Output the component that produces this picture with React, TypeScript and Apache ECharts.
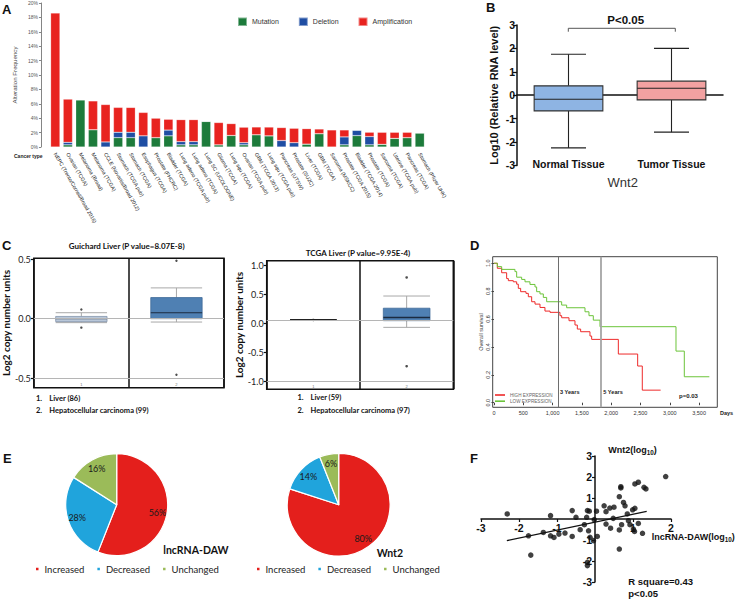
import React, { useEffect, useRef } from 'react';
import * as echarts from 'echarts';

// ---------- Panel A data ----------
const cancerTypes = [
  'NEPC (Trento/Cornell/Broad 2016)', 'Ovarian (TCGA)', 'Melanoma (Broad)', 'Melanoma (TCGA)',
  'CCLE (Novartis/Broad 2012)', 'Stomach (TCGA pub)', 'Stomach (TCGA)', 'Esophagus (TCGA)',
  'Prostate (FHCRC)', 'Bladder (TCGA)', 'Lung adeno (TCGA pub)', 'Lung adeno (TCGA)',
  'Lung SC (UCOLOGNE)', 'Glioma (TCGA)', 'Lung squ (TCGA)', 'Ovarian (TCGA pub)',
  'GBM (TCGA 2013)', 'Lung squ (TCGA pub)', 'Pancreas (UTSW)', 'Prostate (SU2C)',
  'Liver (TCGA)', 'GBM (TCGA)', 'Sarcoma (MSKCC)', 'Prostate (TCGA 2015)',
  'Bladder (TCGA 2014)', 'Prostate (TCGA)', 'Sarcoma (TCGA)', 'Uterine (TCGA pub)',
  'Pancreas (TCGA)', 'Stomach (Pfizer UHK)'
];
const mutation = [0, 0.3, 6.55, 2.4, 0, 1.3, 1.3, 0, 1.3, 1.55, 0.3, 0.3, 3.55, 0.3, 1.6, 0.3,
  1.7, 1.55, 0, 0, 0.4, 1.85, 0, 0.3, 1.58, 0.3, 0.37, 1.2, 1.3, 1.95];
const deletion = [0, 0.35, 0, 0, 0.7, 0.75, 0.75, 1.55, 0, 0.8, 0.45, 0.45, 0, 0, 0, 0.3,
  0, 0, 0.9, 0.6, 0, 0, 0, 1.1, 0.74, 1.15, 0, 0, 0, 0];
const amplification = [18.6, 6.0, 0, 4.0, 5.2, 3.45, 3.45, 3.25, 2.7, 1.5, 3.05, 3.05, 0, 3.1, 1.65, 2.15,
  1.08, 1.22, 1.8, 2.0, 2.15, 0.65, 2.37, 0.97, 0, 0.6, 1.67, 0.84, 0.74, 0];

// ---------- Panel B data (min, q1, median, q3, max) ----------
const bCategories = ['Normal Tissue', 'Tumor Tissue'];
const normalStats = [-2.25, -0.67, -0.17, 0.4, 1.75];
const tumorStats = [-1.58, -0.2, 0.3, 0.6, 2.0];

// ---------- Panel C data ----------
const cGroups = ['1', '2'];
const guichardLiver = [-0.033, -0.025, 0.0, 0.019, 0.05];
const guichardHcc = [-0.028, 0.0, 0.05, 0.177, 0.258];
const guichardOutliers = [[0, 0.077], [0, -0.075], [1, 0.485], [1, -0.47]];
const tcgaLiver = [0.057, 0.057, 0.057, 0.057, 0.057];
const tcgaHcc = [-0.07, 0.045, 0.10, 0.26, 0.47];
const tcgaOutliers = [[0, 0.057], [1, 0.79], [1, -0.74]];
const cLeftTicks = [-0.5, 0, 0.5];
const cRightTicks = [-1.0, -0.5, 0, 0.5, 1.0];

// ---------- Panel D data (Kaplan–Meier steps) ----------
const highDays = [0, 57, 131, 216, 245, 330, 387, 415, 455, 546, 586, 643, 700, 785, 870, 956, 1126, 1155,
  1280, 1382, 1422, 1479, 1638, 1667, 2122, 2452, 2531, 2844];
const highSurv = [1.0, 0.964, 0.932, 0.89, 0.875, 0.867, 0.85, 0.82, 0.796, 0.784, 0.76, 0.724, 0.707, 0.683,
  0.657, 0.648, 0.624, 0.609, 0.588, 0.557, 0.528, 0.509, 0.478, 0.454, 0.349, 0.263, 0.09, 0.09];
const lowDays = [0, 57, 131, 358, 387, 472, 529, 614, 700, 728, 785, 842, 899, 1155, 1240, 1553, 1621, 1695,
  1809, 3106, 3248, 3675];
const lowSurv = [1.0, 0.976, 0.956, 0.94, 0.90, 0.884, 0.867, 0.848, 0.83, 0.796, 0.78, 0.755, 0.724, 0.70,
  0.681, 0.652, 0.624, 0.592, 0.545, 0.37, 0.186, 0.186];
const dDayTicks = [0, 500, 1000, 1500, 2000, 2500, 3000, 3500];
const dSurvTicks = [0, 0.2, 0.4, 0.6, 0.8, 1.0];
const yearMarks = [1095, 1825];

// ---------- Panel E data ----------
const eNames = ['Increased', 'Decreased', 'Unchanged'];
const lncPercent = [56, 28, 16];
const wnt2Percent = [80, 14, 6];
const eColors = ['#e41f1c', '#20a4dc', '#9bbb59'];

// ---------- Panel F data ----------
const fX = [-2.31, -1.75, -1.69, -1.36, -1.17, -1.17, -1.08, -0.95, -0.79, -0.6, -0.6, -0.5, -0.39, -0.28,
  -0.22, -0.2, -0.15, -0.17, -0.13, -0.2, -0.2, -0.04, -0.02, 0.04, 0.06, 0.24, 0.29, 0.29, 0.39, 0.41,
  0.5, 0.48, 0.64, 0.64, 0.68, 0.68, 0.7, 0.75, 0.79, 0.64, 0.85, 0.88, 0.92, 0.99, 1.01, 1.04, 1.05,
  1.14, 1.25, 1.05, 1.14, 1.29, 1.34, 1.86];
const fY = [0.24, -0.8, -1.72, -0.64, 0.16, -0.8, -0.88, -0.72, -0.67, 0.4, -0.83, 0.08, -0.51, -0.27,
  0.08, 0.4, 0.37, -0.56, -0.87, -2.22, -2.06, -1.03, -0.03, 0.37, -0.83, 0.63, 0.35, -0.24, 0.52, -0.44,
  0.56, 0.03, 1.06, -0.52, 1.48, 1.54, -0.27, 0.79, 0.63, -1.43, 0.24, -0.08, -0.27, 0.44, -0.48, -0.59,
  0.51, -0.21, -0.68, 1.67, 1.75, 1.51, 1.43, 2.02];
const fitSlope = 0.378;
const fitIntercept = -0.153;
const fitRange = [-2.32, 1.36];
const fXRange = [-3, 2];
const fYRange = [-3, 3];

const FONT = '"Liberation Sans", Arial, sans-serif';
const CAL = 'Lato, "Liberation Sans", sans-serif';

// Panel F plot box (px) – axes are shifted so that they cross at the data origin
const F_BOX = { left: 481, top: 456, width: 190, height: 126 };

function T(text: string, x: number, y: number, o: any = {}) {
  return {
    type: 'text', x, y, silent: true, z: 100,
    style: {
      text, fill: o.fill || '#111', fontSize: o.size || 10, fontWeight: o.weight || 'normal',
      fontFamily: o.family || FONT, align: o.align || 'left', verticalAlign: o.valign || 'middle',
      fontStyle: o.style || 'normal', rich: o.rich
    }
  };
}

function boxRenderer(cfg: any) {
  return (params: any, api: any) => {
    const i = params.dataIndex;
    const x = api.value(0);
    const lo = api.value(1), q1 = api.value(2), md = api.value(3), q3 = api.value(4), hi = api.value(5);
    const band = api.size([1, 0])[0];
    const bw = band * cfg.boxFrac, cw = band * cfg.capFrac;
    const pHi = api.coord([x, hi]), pQ3 = api.coord([x, q3]), pMd = api.coord([x, md]);
    const pQ1 = api.coord([x, q1]), pLo = api.coord([x, lo]);
    const cx = pMd[0];
    const ws = { stroke: cfg.whisker, lineWidth: cfg.whiskerWidth };
    return {
      type: 'group',
      children: [
        { type: 'line', shape: { x1: cx, y1: pHi[1], x2: cx, y2: pQ3[1] }, style: ws },
        { type: 'line', shape: { x1: cx, y1: pQ1[1], x2: cx, y2: pLo[1] }, style: ws },
        { type: 'line', shape: { x1: cx - cw / 2, y1: pHi[1], x2: cx + cw / 2, y2: pHi[1] }, style: ws },
        { type: 'line', shape: { x1: cx - cw / 2, y1: pLo[1], x2: cx + cw / 2, y2: pLo[1] }, style: ws },
        {
          type: 'rect', shape: { x: cx - bw / 2, y: pQ3[1], width: bw, height: pQ1[1] - pQ3[1] },
          style: { fill: cfg.fills[i], stroke: cfg.strokes[i], lineWidth: cfg.boxLine }
        },
        {
          type: 'line', shape: { x1: cx - bw / 2, y1: pMd[1], x2: cx + bw / 2, y2: pMd[1] },
          style: { stroke: cfg.median[i], lineWidth: cfg.medianWidth }
        }
      ]
    };
  };
}

function buildOption() {
  const steps = (d: number[], s: number[]) => d.map((v, i) => [v, s[i]]);
  const pieData = (vals: number[], transparent: boolean) =>
    vals.map((v, i) => ({ name: eNames[i], value: v, itemStyle: { color: transparent ? 'rgba(0,0,0,0)' : eColors[i] } }));

  const cYLabel = (ticks: number[]) => ({
    customValues: ticks, fontSize: 9, color: '#222', fontFamily: CAL, margin: 3,
    formatter: (v: number) => v.toFixed(1)
  });

  // offsets that move F's axes onto the other axis' zero
  const fXOffset = -F_BOX.height * (0 - fYRange[0]) / (fYRange[1] - fYRange[0]);
  const fYOffset = -F_BOX.width * (0 - fXRange[0]) / (fXRange[1] - fXRange[0]);

  return {
    animation: false,
    backgroundColor: '#fff',
    grid: [
      { left: 49, top: 3, width: 377, height: 144 },
      { left: 517, top: 25, width: 206, height: 140.4 },
      { left: 32.7, top: 258.3, width: 191.3, height: 129.4, show: true, borderColor: '#111', borderWidth: 1.5 },
      { left: 266.7, top: 260.7, width: 186.6, height: 128.6, show: true, borderColor: '#111', borderWidth: 1.5 },
      { left: 492.7, top: 256.7, width: 224.6, height: 150.6, show: true, borderColor: '#444', borderWidth: 1 },
      { ...F_BOX }
    ],
    legend: [
      {
        data: ['Mutation', 'Deletion', 'Amplification'], left: 232, top: 11.5, icon: 'rect',
        itemWidth: 9, itemHeight: 8.5, itemGap: 19, textStyle: { fontSize: 7, color: '#333', fontFamily: FONT },
        selectedMode: false
      },
      {
        data: ['HIGH EXPRESSION', 'LOW EXPRESSION'], left: 495, top: 392.5, orient: 'vertical', icon: 'rect',
        itemWidth: 10, itemHeight: 1.6, itemGap: 1.2, padding: 0,
        textStyle: { fontSize: 4.6, color: '#666', fontFamily: FONT },
        selectedMode: false
      },
      {
        data: eNames, left: 29, top: 559, icon: 'rect', itemWidth: 4.5, itemHeight: 4.5, itemGap: 11,
        textStyle: { fontSize: 9.5, color: '#222', fontFamily: CAL }, selectedMode: false
      },
      {
        data: eNames, left: 250, top: 559, icon: 'rect', itemWidth: 4.5, itemHeight: 4.5, itemGap: 11,
        textStyle: { fontSize: 9.5, color: '#222', fontFamily: CAL }, selectedMode: false
      }
    ],
    xAxis: [
      {
        gridIndex: 0, type: 'category', data: cancerTypes, axisLine: { show: false }, axisTick: { show: false },
        axisLabel: { interval: 0, rotate: -60, fontSize: 5.2, color: '#222', margin: 6, fontFamily: FONT }
      },
      {
        gridIndex: 1, type: 'category', data: bCategories, position: 'bottom',
        axisLine: { show: true, onZero: true, lineStyle: { color: '#111', width: 1.5 } },
        axisTick: { show: false }, axisLabel: { show: false }
      },
      {
        gridIndex: 1, type: 'category', data: bCategories, position: 'bottom', offset: -10,
        axisLine: { show: false, onZero: false }, axisTick: { show: false },
        axisLabel: { fontSize: 10.5, fontWeight: 'bold', color: '#111', margin: 3, fontFamily: FONT }
      },
      {
        gridIndex: 2, type: 'category', data: cGroups, axisLine: { show: false }, axisTick: { show: false },
        axisLabel: { inside: true, fontSize: 4, color: '#777', margin: 1 },
        splitLine: { show: true, lineStyle: { color: '#111', width: 1.5 } }
      },
      {
        gridIndex: 3, type: 'category', data: cGroups, axisLine: { show: false }, axisTick: { show: false },
        axisLabel: { inside: true, fontSize: 4, color: '#777', margin: 1 },
        splitLine: { show: true, lineStyle: { color: '#111', width: 1.5 } }
      },
      {
        gridIndex: 4, type: 'value', min: -22, max: 3811, axisLine: { show: false }, splitLine: { show: false },
        axisTick: { show: true, customValues: dDayTicks, length: 2.5, lineStyle: { color: '#444' } },
        axisLabel: { customValues: dDayTicks, fontSize: 5.5, color: '#333', margin: 3, fontFamily: FONT }
      },
      {
        gridIndex: 5, type: 'value', min: fXRange[0], max: fXRange[1], interval: 1, splitLine: { show: false },
        position: 'bottom', offset: fXOffset,
        axisLine: { show: true, onZero: false, lineStyle: { color: '#111', width: 1.5 } },
        axisTick: { show: true, length: 3, lineStyle: { color: '#111', width: 1.2 } },
        axisLabel: {
          fontSize: 10.5, fontWeight: 'bold', color: '#111', margin: 3, fontFamily: FONT,
          formatter: (v: number) => (v === 0 ? '' : String(v))
        }
      }
    ],
    yAxis: [
      {
        gridIndex: 0, type: 'value', min: 0, max: 20, interval: 2, offset: 8, splitLine: { show: false },
        axisLine: { show: true, lineStyle: { color: '#666', width: 0.8 } },
        axisTick: { show: true, length: 2, lineStyle: { color: '#666', width: 0.8 } },
        axisLabel: { formatter: '{value}%', fontSize: 5, color: '#555', margin: 3, fontFamily: FONT },
        name: 'Alteration Frequency', nameLocation: 'middle', nameGap: 19,
        nameTextStyle: { fontSize: 6.2, color: '#444', fontFamily: FONT }
      },
      {
        gridIndex: 1, type: 'value', min: -3, max: 3, interval: 1, splitLine: { show: false },
        axisLine: { show: true, lineStyle: { color: '#111', width: 1.5 } },
        axisTick: { show: true, length: 4, lineStyle: { color: '#111', width: 1.3 } },
        axisLabel: { fontSize: 10.5, fontWeight: 'bold', color: '#111', margin: 2, fontFamily: FONT },
        name: 'Log10 (Relative RNA level)', nameLocation: 'middle', nameGap: 18,
        nameTextStyle: { fontSize: 11, fontWeight: 'bold', color: '#111', fontFamily: FONT }
      },
      {
        gridIndex: 2, type: 'value', min: -0.578, max: 0.506, splitLine: { show: false },
        axisLine: { show: false },
        axisTick: { show: true, customValues: cLeftTicks, length: 3, lineStyle: { color: '#111', width: 1.2 } },
        axisLabel: cYLabel(cLeftTicks),
        name: 'Log2 copy number units', nameLocation: 'middle', nameGap: 20,
        nameTextStyle: { fontSize: 10, fontWeight: 'bold', color: '#111', fontFamily: CAL }
      },
      {
        gridIndex: 3, type: 'value', min: -1.138, max: 1.079, splitLine: { show: false },
        axisLine: { show: false },
        axisTick: { show: true, customValues: cRightTicks, length: 3, lineStyle: { color: '#111', width: 1.2 } },
        axisLabel: cYLabel(cRightTicks),
        name: 'Log2 copy number units', nameLocation: 'middle', nameGap: 16,
        nameTextStyle: { fontSize: 10, fontWeight: 'bold', color: '#111', fontFamily: CAL }
      },
      {
        gridIndex: 4, type: 'value', min: -0.033, max: 1.047, splitLine: { show: false }, axisLine: { show: false },
        axisTick: { show: true, customValues: dSurvTicks, length: 2.5, lineStyle: { color: '#444' } },
        axisLabel: {
          customValues: dSurvTicks, rotate: 90, fontSize: 5.5, color: '#333', margin: 2, fontFamily: FONT,
          formatter: (v: number) => v.toFixed(1)
        },
        name: 'Overall survival', nameLocation: 'middle', nameGap: 9,
        nameTextStyle: { fontSize: 5.5, color: '#444', fontFamily: FONT }
      },
      {
        gridIndex: 5, type: 'value', min: fYRange[0], max: fYRange[1], interval: 1, splitLine: { show: false },
        position: 'left', offset: fYOffset,
        axisLine: { show: true, onZero: false, lineStyle: { color: '#111', width: 1.5 } },
        axisTick: { show: true, length: 3, lineStyle: { color: '#111', width: 1.2 } },
        axisLabel: {
          fontSize: 10.5, fontWeight: 'bold', color: '#111', margin: 3, fontFamily: FONT,
          formatter: (v: number) => (v === 0 ? '' : String(v))
        }
      }
    ],
    series: [
      // Panel A
      {
        name: 'Mutation', type: 'bar', stack: 'a', xAxisIndex: 0, yAxisIndex: 0, barWidth: 9.3, data: mutation,
        itemStyle: { color: '#1d7b3b', borderColor: 'rgba(255,255,255,0.45)', borderWidth: 0.5 }
      },
      {
        name: 'Deletion', type: 'bar', stack: 'a', xAxisIndex: 0, yAxisIndex: 0, barWidth: 9.3, data: deletion,
        itemStyle: { color: '#1f4ea3', borderColor: 'rgba(255,255,255,0.45)', borderWidth: 0.5 }
      },
      {
        name: 'Amplification', type: 'bar', stack: 'a', xAxisIndex: 0, yAxisIndex: 0, barWidth: 9.3, data: amplification,
        itemStyle: { color: '#e8231f', borderColor: 'rgba(255,255,255,0.45)', borderWidth: 0.5 }
      },
      // Panel B
      {
        type: 'custom', xAxisIndex: 1, yAxisIndex: 1,
        data: [[0, ...normalStats], [1, ...tumorStats]],
        encode: { x: 0, y: [1, 2, 3, 4, 5] },
        renderItem: boxRenderer({
          boxFrac: 0.667, capFrac: 0.34, whisker: '#222', whiskerWidth: 1.1,
          fills: ['#8eb4e3', '#f2a1a1'], strokes: ['#333', '#333'], boxLine: 1.1,
          median: ['#222', '#222'], medianWidth: 1.1
        })
      },
      // Panel C left
      {
        type: 'custom', xAxisIndex: 3, yAxisIndex: 2, z: 3,
        data: [[0, ...guichardLiver], [1, ...guichardHcc]],
        encode: { x: 0, y: [1, 2, 3, 4, 5] },
        renderItem: boxRenderer({
          boxFrac: 0.54, capFrac: 0.54, whisker: '#a8a8a8', whiskerWidth: 1,
          fills: ['#b9c7d9', '#4f80b3'], strokes: ['#8193ab', '#3f6a98'], boxLine: 0.8,
          median: ['#4a5a70', '#1b2b40'], medianWidth: 1.2
        })
      },
      {
        type: 'scatter', xAxisIndex: 3, yAxisIndex: 2, data: guichardOutliers, symbolSize: 2.4,
        itemStyle: { color: '#222' }, z: 4,
        markLine: {
          silent: true, symbol: 'none', label: { show: false },
          lineStyle: { color: '#b5b5b5', type: 'solid', width: 1 },
          data: [{ yAxis: guichardLiver[2] }, { yAxis: cLeftTicks[0] }]
        }
      },
      // Panel C right
      {
        type: 'custom', xAxisIndex: 4, yAxisIndex: 3, z: 3,
        data: [[0, ...tcgaLiver], [1, ...tcgaHcc]],
        encode: { x: 0, y: [1, 2, 3, 4, 5] },
        renderItem: boxRenderer({
          boxFrac: 0.5, capFrac: 0.5, whisker: '#a8a8a8', whiskerWidth: 1,
          fills: ['#222', '#4f80b3'], strokes: ['#222', '#3f6a98'], boxLine: 0.8,
          median: ['#111', '#1b2b40'], medianWidth: 1.5
        })
      },
      {
        type: 'scatter', xAxisIndex: 4, yAxisIndex: 3, data: tcgaOutliers, symbolSize: 2.6,
        itemStyle: { color: '#222' }, z: 4,
        markLine: {
          silent: true, symbol: 'none', label: { show: false },
          lineStyle: { color: '#b5b5b5', type: 'solid', width: 1 },
          data: [{ yAxis: tcgaLiver[2] }, { yAxis: cRightTicks[0] }]
        }
      },
      // Panel D
      {
        name: 'HIGH EXPRESSION', type: 'line', step: 'end', xAxisIndex: 5, yAxisIndex: 4,
        data: steps(highDays, highSurv), symbol: 'none', lineStyle: { color: '#ee2a2a', width: 1 },
        itemStyle: { color: '#ee2a2a' }, z: 3,
        markLine: {
          silent: true, symbol: 'none', label: { show: false },
          data: [
            { xAxis: yearMarks[0], lineStyle: { color: '#6e6e6e', width: 1, type: 'solid' } },
            { xAxis: yearMarks[1], lineStyle: { color: '#a5a5a5', width: 1.8, type: 'solid' } }
          ]
        }
      },
      {
        name: 'LOW EXPRESSION', type: 'line', step: 'end', xAxisIndex: 5, yAxisIndex: 4,
        data: steps(lowDays, lowSurv), symbol: 'none', lineStyle: { color: '#6cc43a', width: 1 },
        itemStyle: { color: '#6cc43a' }, z: 3
      },
      // Panel E
      {
        type: 'pie', center: [116.7, 504.7], radius: [0, 51], startAngle: 90, clockwise: true, silent: true,
        data: pieData(lncPercent, false), label: { show: false }, labelLine: { show: false },
        itemStyle: { borderColor: '#fff', borderWidth: 1.2 }
      },
      {
        type: 'pie', center: [338.7, 504.7], radius: [0, 51.4], startAngle: 90, clockwise: true, silent: true,
        data: pieData(wnt2Percent, false), label: { show: false }, labelLine: { show: false },
        itemStyle: { borderColor: '#fff', borderWidth: 1.2 }
      },
      {
        type: 'pie', center: [116.7, 504.7], radius: [26, 51], startAngle: 90, clockwise: true, silent: true,
        data: pieData(lncPercent, true), labelLine: { show: false },
        label: { show: true, position: 'inside', formatter: '{c}%', fontSize: 9, color: '#1a1a1a', fontFamily: CAL }
      },
      {
        type: 'pie', center: [338.7, 504.7], radius: [26, 51.4], startAngle: 90, clockwise: true, silent: true,
        data: pieData(wnt2Percent, true), labelLine: { show: false },
        label: { show: true, position: 'inside', formatter: '{c}%', fontSize: 9, color: '#1a1a1a', fontFamily: CAL }
      },
      // Panel F
      {
        type: 'scatter', xAxisIndex: 6, yAxisIndex: 5, data: fX.map((x, i) => [x, fY[i]]),
        symbolSize: 5.5, itemStyle: { color: '#111' }, z: 4
      },
      {
        type: 'line', xAxisIndex: 6, yAxisIndex: 5, symbol: 'none', z: 3,
        data: fitRange.map((x) => [x, fitSlope * x + fitIntercept]),
        lineStyle: { color: '#111', width: 1.3 }
      }
    ],
    graphic: [
      T('A', 2, 3, { size: 13, weight: 'bold', valign: 'top' }),
      T('Cancer type', 14, 156, { size: 5, weight: 'bold', fill: '#222' }),
      T('B', 486, 1, { size: 13, weight: 'bold', valign: 'top' }),
      {
        type: 'polyline', silent: true,
        shape: { points: [[568.3, 31.7], [568.3, 28.3], [675.3, 28.3], [675.3, 31.7]] },
        style: { stroke: '#555', lineWidth: 1, fill: 'none' }
      },
      T('P<0.05', 625.7, 20, { size: 11.5, weight: 'bold', align: 'center' }),
      T('Wnt2', 622.7, 182, { size: 13, fill: '#333', align: 'center' }),
      T('C', 2, 239, { size: 13, weight: 'bold', valign: 'top' }),
      T('Guichard Liver (P value=8.07E-8)', 126.7, 246, { size: 8, weight: 'bold', family: CAL, align: 'center' }),
      T('TCGA Liver (P value=9.95E-4)', 358, 253, { size: 8, weight: 'bold', family: CAL, align: 'center' }),
      T('1.', 36, 398.3, { size: 7.5, weight: 'bold', family: CAL }),
      T('Liver (86)', 49.3, 398.3, { size: 7.5, weight: 'bold', family: CAL }),
      T('2.', 36, 410.5, { size: 7.5, weight: 'bold', family: CAL }),
      T('Hepatocellular carcinoma (99)', 49.3, 410.5, { size: 7.5, weight: 'bold', family: CAL }),
      T('1.', 297.5, 397, { size: 7.5, weight: 'bold', family: CAL }),
      T('Liver (59)', 310.5, 397, { size: 7.5, weight: 'bold', family: CAL }),
      T('2.', 297.5, 410.5, { size: 7.5, weight: 'bold', family: CAL }),
      T('Hepatocellular carcinoma (97)', 310.5, 410.5, { size: 7.5, weight: 'bold', family: CAL }),
      T('D', 470, 239, { size: 13, weight: 'bold', valign: 'top' }),
      T('3 Years', 560, 392.3, { size: 5.6, weight: 'bold', fill: '#222' }),
      T('5 Years', 603.3, 392.3, { size: 5.6, weight: 'bold', fill: '#222' }),
      T('p=0.03', 679, 396, { size: 6, weight: 'bold', fill: '#222' }),
      T('Days', 720, 413.3, { size: 5.5, weight: 'bold', fill: '#222' }),
      T('E', 3, 452, { size: 13, weight: 'bold', valign: 'top' }),
      T('lncRNA-DAW', 163.3, 550, { size: 10.5, weight: 'bold', family: CAL }),
      T('Wnt2', 376.7, 552.7, { size: 10.5, weight: 'bold', family: CAL }),
      T('F', 470, 452, { size: 13, weight: 'bold', valign: 'top' }),
      {
        type: 'text', x: 608.3, y: 450, silent: true, z: 100,
        style: {
          text: '{a|Wnt2(log}{s|10}{a|)}', verticalAlign: 'middle', align: 'left',
          rich: {
            a: { fontSize: 9, fontWeight: 'bold', fill: '#111', fontFamily: FONT },
            s: { fontSize: 6.3, fontWeight: 'bold', fill: '#111', fontFamily: FONT, padding: [4, 0, 0, 0] }
          }
        }
      },
      {
        type: 'text', x: 651.7, y: 537.3, silent: true, z: 100,
        style: {
          text: '{a|lncRNA-DAW(log}{s|10}{a|)}', verticalAlign: 'middle', align: 'left',
          rich: {
            a: { fontSize: 9, fontWeight: 'bold', fill: '#111', fontFamily: FONT },
            s: { fontSize: 6.3, fontWeight: 'bold', fill: '#111', fontFamily: FONT, padding: [4, 0, 0, 0] }
          }
        }
      },
      T('R square=0.43', 628.3, 581.7, { size: 9.5, weight: 'bold' }),
      T('p<0.05', 628.3, 593, { size: 9.5, weight: 'bold' })
    ]
  };
}

export default function App() {
  const ref = useRef<HTMLDivElement>(null);
  useEffect(() => {
    if (!ref.current) return;
    const chart = echarts.init(ref.current, undefined, { renderer: 'svg' });
    chart.setOption(buildOption() as any);
    return () => chart.dispose();
  }, []);
  return (
    <div
      ref={ref}
      style={{ position: 'absolute', left: 0, top: 0, width: 738, height: 600, background: '#fff' }}
    />
  );
}
